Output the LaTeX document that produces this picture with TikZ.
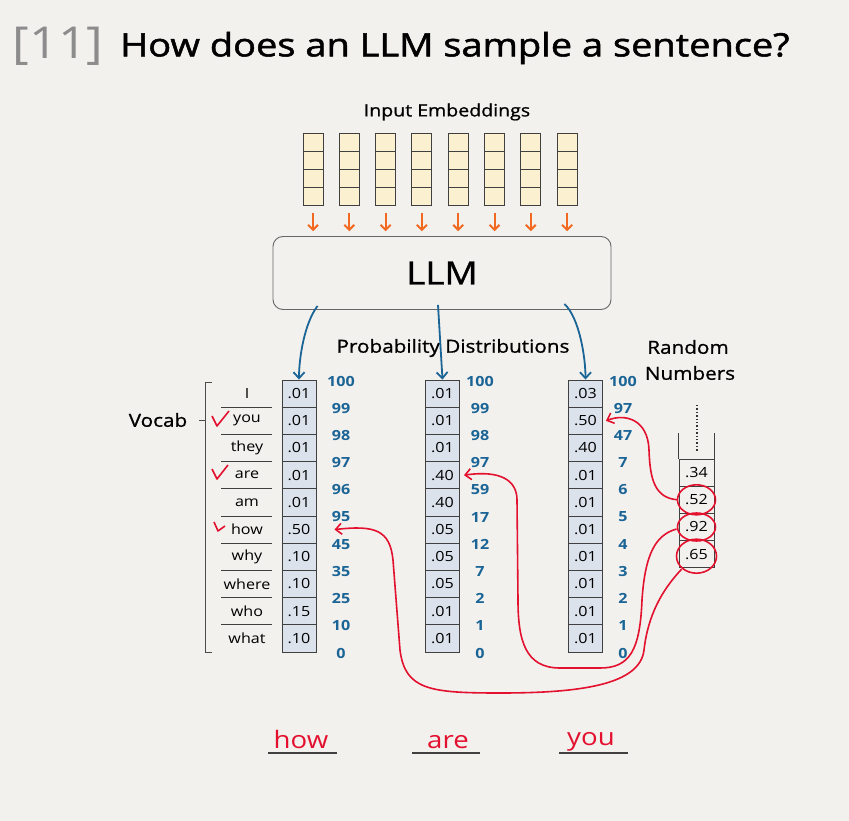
\documentclass[tikz,border=0pt]{standalone}
\usepackage{fontspec}
\setmainfont[FakeStretch=1.15]{Open Sans}
\newfontfamily\titlefont[FakeStretch=1.18,FakeBold=1.6]{Open Sans}
\newfontfamily\lblfont[FakeStretch=1.15,FakeBold=1.0]{Open Sans}
\usetikzlibrary{arrows.meta,calc}
\definecolor{paper}{HTML}{F3F1EE}
\definecolor{embfill}{HTML}{FBF0CF}
\definecolor{cellfill}{HTML}{DCE2EC}
\definecolor{blueink}{HTML}{1A6496}
\definecolor{redink}{HTML}{E3102E}
\definecolor{orangeink}{HTML}{F26A21}
\definecolor{titlegray}{HTML}{8C8C8C}
\newcommand{\fs}[1]{\fontsize{#1}{#1}\selectfont}
\begin{document}
\begin{tikzpicture}[x=1pt,y=-1pt,
  embcell/.style={draw=black!75, fill=embfill, minimum width=20pt, minimum height=18.2pt, inner sep=0pt, line width=0.9pt},
  pcell/.style={draw=black!75, fill=cellfill, minimum width=34pt, minimum height=27.2pt, inner sep=0pt, line width=0.9pt, font=\fs{14}},
  rcell/.style={draw=black!75, fill=paper, minimum width=35pt, minimum height=27.2pt, inner sep=0pt, line width=0.9pt, font=\fs{14}},
  num/.style={text=blueink, font=\fs{14}\bfseries, inner sep=0pt},
  word/.style={font=\fs{14}, inner sep=0pt},
  lbl/.style={font=\lblfont\fs{18}, inner sep=0pt},
  orangearrow/.style={draw=orangeink, line width=2pt, -{Straight Barb[length=5pt,width=10pt]}},
  bluearrow/.style={draw=blueink, line width=1.8pt, -{Straight Barb[length=6pt,width=11pt]}},
  redarrow/.style={draw=redink, line width=1.6pt, -{Straight Barb[length=6pt,width=11pt]}},
  redline/.style={draw=redink, line width=1.6pt},
  answer/.style={text=redink, font=\fs{24}, inner sep=0pt, anchor=base}
]
\fill[paper] (0,0) rectangle (849,821);
\useasboundingbox (0,0) rectangle (849,821);

% title
\node[text=titlegray, font=\fs{44}, inner sep=0pt] (num) at (58,46) {[11]};
\node[font=\titlefont\fs{32.2}, anchor=west, inner sep=0pt] (title) at (120,48) {How does an LLM sample a sentence?};

% input embeddings
\node[lbl, font=\lblfont\fs{17}] (inlbl) at (447,112) {Input Embeddings};
\foreach \i in {1,...,8} {
  \pgfmathsetmacro{\xx}{313+36.3*(\i-1)}
  \foreach \k in {1,...,4} {
    \node[embcell] (e\i r\k) at (\xx,{133+18.2*(\k-0.5)}) {};
  }
  \draw[orangearrow] ($(e\i r4.south)+(0,7)$) -- ++(0,18);
}

% LLM box
\node[draw=black!60, line width=0.9pt, rounded corners=10pt, minimum width=338pt, minimum height=73pt, font=\lblfont\fs{32}] (llm) at (442,273) {LLM};

% probability columns
\foreach \v [count=\r] in {.01,.01,.01,.01,.01,.50,.10,.10,.15,.10}
  \node[pcell] (a\r) at (299,{366.4+27.2*\r}) {\v};
\foreach \v [count=\r] in {.01,.01,.01,.40,.40,.05,.05,.05,.01,.01}
  \node[pcell] (b\r) at (442.5,{366.4+27.2*\r}) {\v};
\foreach \v [count=\r] in {.03,.50,.40,.01,.01,.01,.01,.01,.01,.01}
  \node[pcell] (c\r) at (585.5,{366.4+27.2*\r}) {\v};

\foreach \v [count=\r from 0] in {100,99,98,97,96,95,45,35,25,10,0}
  \node[num] (an\r) at (341,{381+27.2*\r}) {\v};
\foreach \v [count=\r from 0] in {100,99,98,97,59,17,12,7,2,1,0}
  \node[num] (bn\r) at (480,{381+27.2*\r}) {\v};
\foreach \v [count=\r from 0] in {100,97,47,7,6,5,4,3,2,1,0}
  \node[num] (cn\r) at (623,{381+27.2*\r}) {\v};

% vocab
\foreach \w [count=\r] in {I,you,they,are,am,how,why,where,who,what}
  \node[word] (v\r) at (247,{366.4+27.2*\r}) {\w};
\foreach \k in {1,...,9}
  \draw[black!75, line width=0.9pt] (221,{380+27.2*\k}) -- (272,{380+27.2*\k});
\draw[black!70, line width=0.9pt] (212,382) -- (205,382) -- (205,652) -- (212,652);
\draw[black!70, line width=0.9pt] (199,420) -- (205,420);
\node[lbl] (vocab) at (158,420) {Vocab};

% check marks
\draw[redline, line join=round] (212,416) -- (217,426) -- (229,411);
\draw[redline, line join=round] (212,469) -- (217,479) -- (228,465);
\draw[redline, line join=round] (214,522) -- (218,531) -- (225,526);

% LLM to distributions
\node[lbl] (pdlbl) at (453,348) {Probability Distributions};
\draw[bluearrow] ($(llm.south west)+(45,-4)$) .. controls +(-13,17) and +(0,-22) .. (a1.north);
\draw[bluearrow] ($(llm.south)+(-4,-5)$) -- (b1.north);
\draw[bluearrow] ($(llm.south east)+(-47,-6)$) .. controls +(15,14) and +(0,-22) .. (c1.north);

% random numbers
\node[lbl] (rnd1) at (688,347) {Random};
\node[lbl] (rnd2) at (690,373) {Numbers};
\foreach \v [count=\r] in {.34,.52,.92,.65}
  \node[rcell] (rn\r) at (696.5,{445.4+27.2*\r}) {\v};
\draw[black!75, line width=0.9pt] (rn1.north west) -- ++(0,-26);
\draw[black!75, line width=0.9pt] (rn1.north east) -- ++(0,-26);
\draw[black!80, line width=1.4pt, dotted] (697,405) -- (697,452);

% circles
\draw[redline] (rn2) ellipse [x radius=19, y radius=15];
\draw[redline] (rn3) ellipse [x radius=19, y radius=14];
\draw[redline] ($(rn4)+(0,2)$) ellipse [x radius=20, y radius=17];

% sampling curves
\draw[redarrow] ($(rn2.west)+(-1,0)$) .. controls (655,498) and (650,480) .. (649,450)
  .. controls (648,420) and (626,413) .. ($(c2.east)+(3,0)$);
\draw[redarrow] ($(rn3.west)+(-2,2)$) .. controls (655,535) and (645,555) .. (642,600)
  .. controls (640,650) and (630,668) .. (600,668) -- (560,668)
  .. controls (525,668) and (518,640) .. (518,600) -- (517,500)
  .. controls (517,480) and (500,470) .. ($(b4.east)+(4,0)$);
\draw[redarrow] ($(rn4.south west)+(3,1)$) .. controls (662,590) and (648,615) .. (644,650)
  .. controls (640,685) and (580,693) .. (500,693)
  .. controls (430,693) and (405,690) .. (400,650) -- (393,560)
  .. controls (390,530) and (375,525) .. ($(a6.east)+(18,0)$);

% sampled sentence
\node[answer] (w1) at (301,748) {how};
\node[answer] (w2) at (448,748) {are};
\node[answer] (w3) at (591,745) {you};
\draw[black!75, line width=1.1pt] (268,753) -- (337,753);
\draw[black!75, line width=1.1pt] (412,753) -- (480,753);
\draw[black!75, line width=1.1pt] (559,753) -- (628,753);
\end{tikzpicture}
\end{document}
